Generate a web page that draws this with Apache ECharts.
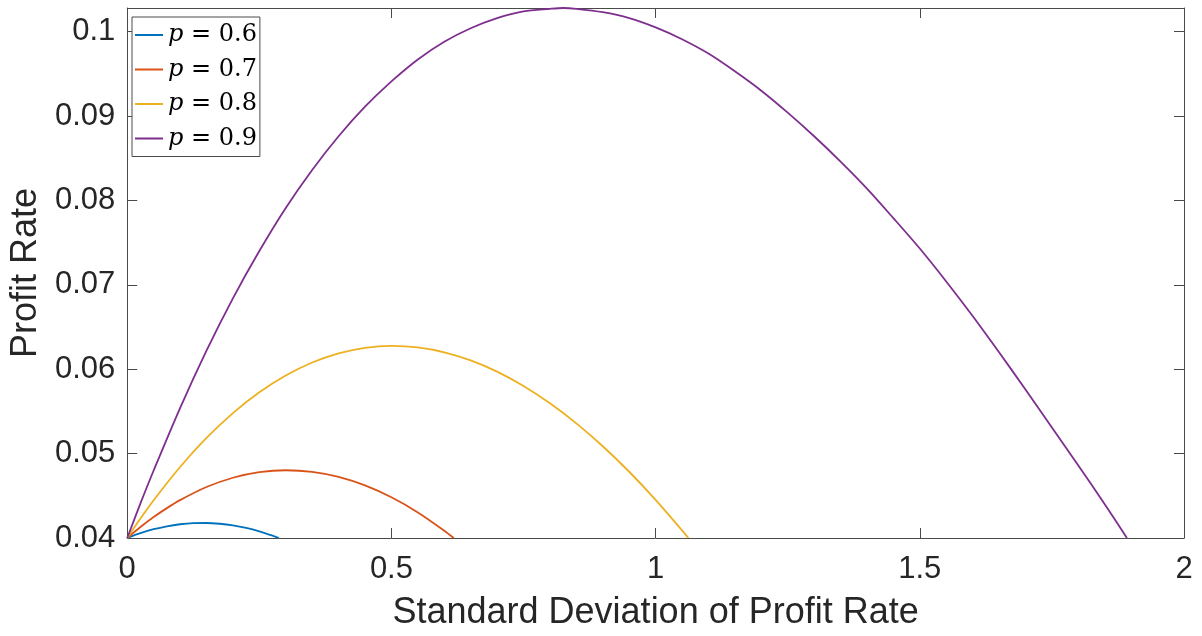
<!DOCTYPE html>
<html>
<head>
<meta charset="utf-8">
<script src="https://cdn.jsdelivr.net/npm/echarts@6/dist/echarts.min.js"></script>
<style>
html,body{margin:0;padding:0;background:#fff;}
#chart{width:1202px;height:636px;}
</style>
</head>
<body>
<div id="chart"></div>
<script>
// ---- data ----
const legendNames = ['p = 0.6', 'p = 0.7', 'p = 0.8', 'p = 0.9'];
const xTickLabels = ['0', '0.5', '1', '1.5', '2'];
const yTickLabels = ['0.04', '0.05', '0.06', '0.07', '0.08', '0.09', '0.1'];

const sdP6 = [0, 0.025, 0.05, 0.075, 0.1, 0.125, 0.15, 0.175, 0.2, 0.225, 0.25, 0.275, 0.287];
const rateP6 = [0.04, 0.04057, 0.04104, 0.04139, 0.04163, 0.04176, 0.04178, 0.04169, 0.0415, 0.0412, 0.04079, 0.04028, 0.04];

const sdP7 = [0, 0.025, 0.05, 0.075, 0.1, 0.15, 0.2, 0.25, 0.3, 0.35, 0.4, 0.45, 0.5, 0.55, 0.6, 0.618];
const rateP7 = [0.04, 0.0413, 0.04248, 0.04354, 0.04449, 0.04604, 0.04714, 0.0478, 0.04803, 0.04784, 0.04724, 0.04623, 0.04482, 0.04303, 0.04087, 0.04];

const sdP8 = [0, 0.025, 0.05, 0.1, 0.15, 0.2, 0.25, 0.3, 0.35, 0.4, 0.45, 0.5, 0.55, 0.6, 0.65, 0.7, 0.75, 0.8, 0.85, 0.9, 0.95, 1.0, 1.05, 1.062];
const rateP8 = [0.04, 0.0423, 0.04447, 0.04841, 0.05185, 0.0548, 0.05726, 0.05925, 0.06079, 0.06187, 0.06253, 0.06276, 0.06258, 0.062, 0.06104, 0.05971, 0.05801, 0.05596, 0.05358, 0.05087, 0.04785, 0.04452, 0.04091, 0.04];

const sdP9 = [0, 0.025, 0.05, 0.1, 0.15, 0.2, 0.25, 0.3, 0.35, 0.4, 0.45, 0.5, 0.55, 0.6, 0.65, 0.7, 0.75, 0.8, 0.825, 0.85, 0.9, 0.95, 1.0, 1.05, 1.1, 1.15, 1.2, 1.25, 1.3, 1.35, 1.4, 1.45, 1.5, 1.55, 1.6, 1.65, 1.7, 1.75, 1.8, 1.85, 1.892];
const rateP9 = [0.04, 0.0441, 0.048, 0.0554, 0.0622, 0.0684, 0.074, 0.0791, 0.0836, 0.0876, 0.0911, 0.0941, 0.0967, 0.0988, 0.1004, 0.1016, 0.1024, 0.1027, 0.1028, 0.1027, 0.1023, 0.1016, 0.1005, 0.0991, 0.0974, 0.0953, 0.093, 0.0904, 0.0876, 0.0846, 0.0814, 0.0779, 0.0743, 0.0704, 0.0663, 0.062, 0.0576, 0.0531, 0.0486, 0.044, 0.04];

const colors = ['#0072BD', '#D95319', '#EDB120', '#7E2F8E'];
const X_MIN = 0, X_MAX = 2, X_STEP = 0.5;
const Y_MIN = 0.04, Y_MAX = 0.1028, Y_STEP = 0.01;

// ---- chart ----
const sans = '"Liberation Sans", Arial, Helvetica, sans-serif';
const serif = '"DejaVu Serif", "Liberation Serif", serif';
const axisColor = '#4a4a4a';
const textColor = '#262626';

function pairs(xs, ys) { return xs.map((x, i) => [x, ys[i]]); }
const allSeries = [[sdP6, rateP6], [sdP7, rateP7], [sdP8, rateP8], [sdP9, rateP9]];

function yLabel(v) {
  const k = Math.round((v - Y_MIN) / Y_STEP);
  if (Math.abs(v - (Y_MIN + k * Y_STEP)) > 1e-6) return '';
  return yTickLabels[k] !== undefined ? yTickLabels[k] : '';
}
function xLabel(v) {
  const k = Math.round((v - X_MIN) / X_STEP);
  return xTickLabels[k] !== undefined ? xTickLabels[k] : '';
}

const chart = echarts.init(document.getElementById('chart'), null, {renderer: 'canvas'});
const baseAxisLine = {show: true, onZero: false, lineStyle: {color: axisColor, width: 1}};
const tick = {show: true, inside: true, length: 10, lineStyle: {color: axisColor, width: 1}};

chart.setOption({
  backgroundColor: '#ffffff',
  animation: false,
  grid: {left: 124, right: 18, top: 8, bottom: 95, containLabel: false},
  legend: {
    data: legendNames,
    left: 132, top: 17,
    orient: 'vertical',
    icon: 'rect',
    itemWidth: 28, itemHeight: 2,
    itemGap: 4.5,
    padding: [3, 3, 3, 3],
    backgroundColor: '#ffffff',
    borderColor: axisColor, borderWidth: 1, borderRadius: 0,
    formatter: function (name) {
      const parts = name.split(' = ');
      return '{i|' + parts[0] + '}{n| = ' + parts[1] + '}';
    },
    textStyle: {
      color: '#000',
      fontFamily: serif, fontSize: 24, lineHeight: 30,
      rich: {
        i: {fontFamily: serif, fontStyle: 'italic', fontSize: 24, color: '#000', lineHeight: 30},
        n: {fontFamily: serif, fontSize: 24, color: '#000', lineHeight: 30}
      }
    }
  },
  xAxis: [{
    type: 'value', position: 'bottom',
    min: X_MIN, max: X_MAX, interval: X_STEP,
    name: 'Standard Deviation of Profit Rate',
    nameLocation: 'middle', nameGap: 57,
    nameTextStyle: {fontFamily: sans, fontSize: 36, color: textColor},
    axisLine: baseAxisLine, axisTick: tick,
    splitLine: {show: false},
    axisLabel: {fontFamily: sans, fontSize: 31, color: textColor, margin: 16, formatter: xLabel}
  }, {
    type: 'value', position: 'top',
    min: X_MIN, max: X_MAX, interval: X_STEP,
    axisLine: baseAxisLine, axisTick: tick,
    splitLine: {show: false}, axisLabel: {show: false}
  }],
  yAxis: [{
    type: 'value', position: 'left',
    min: Y_MIN, max: Y_MAX, interval: Y_STEP,
    name: 'Profit Rate',
    nameLocation: 'middle', nameGap: 80, nameRotate: 90,
    nameTextStyle: {fontFamily: sans, fontSize: 36, color: textColor},
    axisLine: baseAxisLine, axisTick: tick,
    splitLine: {show: false},
    axisLabel: {fontFamily: sans, fontSize: 31, color: textColor, margin: 12, formatter: yLabel, showMaxLabel: false}
  }, {
    type: 'value', position: 'right',
    min: Y_MIN, max: Y_MAX, interval: Y_STEP,
    axisLine: baseAxisLine, axisTick: tick,
    splitLine: {show: false}, axisLabel: {show: false}
  }],
  series: allSeries.map((s, i) => ({
    name: legendNames[i],
    type: 'line',
    xAxisIndex: 0, yAxisIndex: 0,
    data: pairs(s[0], s[1]),
    showSymbol: false, symbol: 'none',
    smooth: 0.3,
    clip: true,
    color: colors[i],
    lineStyle: {color: colors[i], width: 1.8},
    itemStyle: {color: colors[i]},
    z: 2 + i
  }))
});
</script>
</body>
</html>
